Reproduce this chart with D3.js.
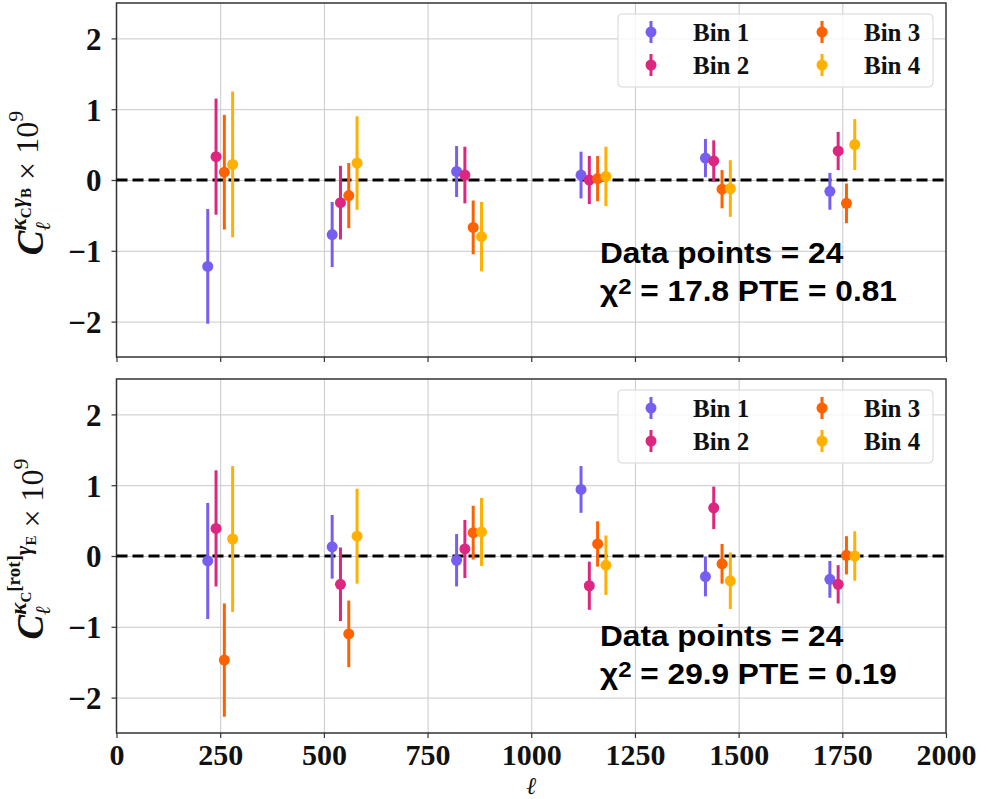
<!DOCTYPE html>
<html>
<head>
<meta charset="utf-8">
<script src="https://cdn.jsdelivr.net/npm/d3@7.9.0/dist/d3.min.js"></script>
<style>
  body { margin: 0; background: #fff; }
  .serif { font-family: 'Liberation Serif', 'DejaVu Serif', serif; font-weight: bold; }
  .note { font-family: 'Liberation Sans', Arial, sans-serif; font-weight: bold; }
</style>
</head>
<body>
<div id="chart"></div>
<script>
// multipole bin centres and the small shift each tomographic bin gets
const ellCenters = [250, 550, 850, 1150, 1450, 1750];
const binOffsets = [-30, -10, 10, 30];
const binNames = ['Bin 1', 'Bin 2', 'Bin 3', 'Bin 4'];
const binColors = ['#785ef0', '#dc267f', '#fe6100', '#ffb000'];

const xTicks = [0, 250, 500, 750, 1000, 1250, 1500, 1750, 2000];
const yTicks = [-2, -1, 0, 1, 2];

// top panel: kappa_C x gamma_B  (one row per bin)
const bModeCl = [
  [-1.22, -0.77, 0.12, 0.07, 0.31, -0.16],
  [0.33, -0.32, 0.07, 0.00, 0.27, 0.41],
  [0.11, -0.22, -0.67, 0.02, -0.13, -0.33],
  [0.22, 0.24, -0.80, 0.05, -0.12, 0.50],
];
const bModeErr = [
  [0.81, 0.46, 0.36, 0.33, 0.27, 0.26],
  [0.82, 0.52, 0.40, 0.34, 0.29, 0.27],
  [0.81, 0.46, 0.38, 0.32, 0.27, 0.28],
  [1.03, 0.66, 0.49, 0.42, 0.40, 0.36],
];

// bottom panel: rotated kappa_C x gamma_E
const rotCl = [
  [-0.07, 0.13, -0.06, 0.94, -0.29, -0.33],
  [0.39, -0.40, 0.10, -0.42, 0.68, -0.40],
  [-1.47, -1.10, 0.33, 0.17, -0.11, 0.01],
  [0.24, 0.28, 0.34, -0.13, -0.35, 0.00],
];
const rotErr = [
  [0.82, 0.45, 0.37, 0.33, 0.28, 0.26],
  [0.82, 0.52, 0.41, 0.34, 0.30, 0.27],
  [0.80, 0.47, 0.38, 0.32, 0.28, 0.27],
  [1.03, 0.67, 0.48, 0.42, 0.40, 0.35],
];

const bModeStats = ['Data points = 24', '17.8', '0.81'];
const rotStats = ['Data points = 24', '29.9', '0.19'];

const width = 990;
const height = 799;
const plotLeft = 116.5;
const plotRight = 946;

const svg = d3.select('#chart')
  .append('svg')
  .attr('width', width)
  .attr('height', height)
  .style('display', 'block');

svg.append('rect').attr('width', width).attr('height', height).attr('fill', '#fff');

const xScale = d3.scaleLinear().domain([0, 2000]).range([plotLeft, plotRight]);

const panels = [
  { top: 3, bottom: 357, cl: bModeCl, err: bModeErr, stats: bModeStats, textY: 263, labelY: 183, labels: false, kind: 'B' },
  { top: 379, bottom: 733, cl: rotCl, err: rotErr, stats: rotStats, textY: 646, labelY: 549, labels: true, kind: 'rot' },
];

panels.forEach(drawPanel);

function drawPanel(p) {
  const yScale = d3.scaleLinear().domain([-2.5, 2.5]).range([p.bottom, p.top]);
  const g = svg.append('g');
  const plotW = plotRight - plotLeft;
  const plotH = p.bottom - p.top;

  // gridlines
  g.append('g')
    .attr('transform', `translate(${plotLeft},0)`)
    .call(d3.axisLeft(yScale).tickValues(yTicks).tickSize(-plotW).tickFormat(''))
    .call((s) => s.select('.domain').remove())
    .call((s) => s.selectAll('line').attr('stroke', '#c9c9c9').attr('stroke-width', 1));
  g.append('g')
    .attr('transform', `translate(0,${p.bottom})`)
    .call(d3.axisBottom(xScale).tickValues(xTicks.slice(1, -1)).tickSize(-plotH).tickFormat(''))
    .call((s) => s.select('.domain').remove())
    .call((s) => s.selectAll('line').attr('stroke', '#c9c9c9').attr('stroke-width', 1));

  // axes with outward ticks
  const yAxis = g.append('g')
    .attr('transform', `translate(${plotLeft},0)`)
    .call(d3.axisLeft(yScale).tickValues(yTicks).tickSize(5).tickSizeOuter(0).tickPadding(10).tickFormat(d3.format('d')));
  yAxis.selectAll('text').attr('class', 'serif').style('font-size', '31px').attr('fill', '#111').attr('dy', '0.35em');

  const xAxis = g.append('g')
    .attr('transform', `translate(0,${p.bottom})`)
    .call(d3.axisBottom(xScale).tickValues(xTicks).tickSize(5).tickSizeOuter(0).tickPadding(6)
      .tickFormat(p.labels ? d3.format('d') : ''));
  xAxis.selectAll('text').attr('class', 'serif').style('font-size', '30px').attr('fill', '#111');
  svg.selectAll('.domain').remove();
  g.selectAll('.tick line').filter(function () { return this.getAttribute('stroke') === 'currentColor'; })
    .attr('stroke', '#333').attr('stroke-width', 1.2);

  // frame
  g.append('rect')
    .attr('x', plotLeft).attr('y', p.top)
    .attr('width', plotW).attr('height', plotH)
    .attr('fill', 'none').attr('stroke', '#333').attr('stroke-width', 1.5);

  // zero line
  g.append('line')
    .attr('x1', plotLeft).attr('x2', plotRight)
    .attr('y1', yScale(0)).attr('y2', yScale(0))
    .attr('stroke', '#000').attr('stroke-width', 3).attr('stroke-dasharray', '11,5');

  // error bars + points
  p.cl.forEach((vals, b) => {
    const pts = vals.map((v, i) => ({ ell: ellCenters[i] + binOffsets[b], v, e: p.err[b][i] }));
    const bg = g.append('g');
    bg.selectAll('line').data(pts).join('line')
      .attr('x1', (d) => xScale(d.ell)).attr('x2', (d) => xScale(d.ell))
      .attr('y1', (d) => yScale(d.v - d.e)).attr('y2', (d) => yScale(d.v + d.e))
      .attr('stroke', binColors[b]).attr('stroke-width', 3);
    bg.selectAll('circle').data(pts).join('circle')
      .attr('cx', (d) => xScale(d.ell)).attr('cy', (d) => yScale(d.v))
      .attr('r', 5.5).attr('fill', binColors[b]);
  });

  // legend
  const lg = g.append('g').attr('transform', `translate(0,${p.top})`);
  lg.append('rect')
    .attr('x', 618).attr('y', 11).attr('width', 315).attr('height', 73).attr('rx', 4)
    .attr('fill', '#fff').attr('fill-opacity', 0.8).attr('stroke', '#d6d6d6').attr('stroke-width', 1);
  binNames.forEach((name, b) => {
    const cx = b < 2 ? 651 : 822;
    const cy = b % 2 === 0 ? 29 : 62;
    lg.append('line').attr('x1', cx).attr('x2', cx).attr('y1', cy - 11).attr('y2', cy + 11)
      .attr('stroke', binColors[b]).attr('stroke-width', 3);
    lg.append('circle').attr('cx', cx).attr('cy', cy).attr('r', 5.5).attr('fill', binColors[b]);
    lg.append('text').attr('class', 'serif').attr('x', cx + 42).attr('y', cy + 9)
      .style('font-size', '25px').attr('fill', '#111').text(name);
  });

  // chi-square note (slightly stretched, like the source)
  const note = g.append('g').attr('class', 'note').style('font-size', '29px').attr('fill', '#000');
  note.append('text').attr('transform', `translate(600,${p.textY}) scale(1.09,1)`).text(p.stats[0]);
  const t2 = note.append('text').attr('transform', `translate(600,${p.textY + 38}) scale(1.09,1)`);
  t2.append('tspan').text('χ');
  t2.append('tspan').style('font-size', '22px').attr('dy', -7).text('2');
  t2.append('tspan').attr('dy', 7).text(` = ${p.stats[1]} PTE = ${p.stats[2]}`);

  // y label
  const lab = g.append('text').attr('class', 'serif')
    .attr('transform', `translate(43,${p.labelY}) rotate(-90)`)
    .attr('text-anchor', 'middle').attr('fill', '#111');
  lab.append('tspan').style('font-size', '37px').style('font-style', 'italic').text('C');
  lab.append('tspan').style('font-size', '21px').style('font-style', 'italic').attr('dy', 7).text('ℓ');
  lab.append('tspan').style('font-size', '23px').style('font-style', 'italic').attr('dx', -9).attr('dy', -24).text('κ');
  lab.append('tspan').style('font-size', '15px').attr('dy', 5).text('C');
  if (p.kind === 'rot') {
    lab.append('tspan').style('font-size', '19px').attr('dy', -11).text('[rot]');
    lab.append('tspan').style('font-size', '23px').style('font-style', 'italic').attr('dy', 11).text('γ');
    lab.append('tspan').style('font-size', '15px').attr('dy', 5).text('E');
  } else {
    lab.append('tspan').style('font-size', '23px').style('font-style', 'italic').attr('dy', -5).text('γ');
    lab.append('tspan').style('font-size', '15px').attr('dy', 5).text('B');
  }
  lab.append('tspan').style('font-size', '32px').style('font-weight', 'normal').attr('dy', 7).text(' × 10');
  lab.append('tspan').style('font-size', '22px').style('font-weight', 'normal').attr('dy', -15).text('9');
}

// x label
svg.append('text').attr('class', 'serif')
  .attr('x', xScale(1000)).attr('y', 793.5).attr('text-anchor', 'middle')
  .style('font-size', '24px').style('font-style', 'italic').style('font-weight', 'normal')
  .attr('fill', '#111').text('ℓ');
</script>
</body>
</html>
